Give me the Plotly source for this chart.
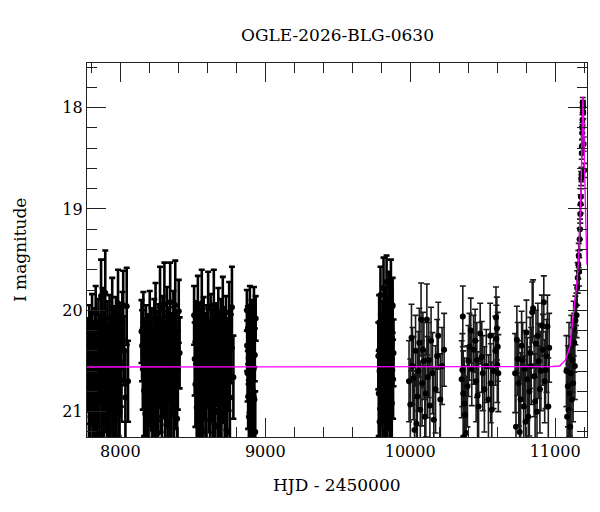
import plotly.graph_objects as go

# --- photometry (HJD-2450000, I mag, error) ---
s1_t = [7776, 7779, 7783, 7786, 7790, 7794, 7797, 7801, 7805, 7808,
        7812, 7816, 7819, 7823, 7827, 7830, 7834, 7838, 7841, 7845,
        7849, 7852, 7856, 7860, 7863, 7867, 7871, 7874, 7878, 7882,
        7885, 7889, 7893, 7896, 7900, 7904, 7907, 7911, 7915, 7918,
        7922, 7926, 7929, 7933, 7937, 7940, 7944, 7948, 7951, 7955,
        7959, 7962, 7966, 7970, 7973, 7977, 7981, 7984, 7988, 7992,
        7995, 7999, 8003, 8008, 8014, 8020, 8027, 8035, 8044, 8053]
s1_mag = [20.62, 20.41, 20.88, 20.25, 20.71, 21.05, 20.33, 20.56, 20.12, 20.94,
          20.47, 20.68, 21.15, 20.29, 20.52, 20.03, 20.81, 20.44, 20.97, 20.61,
          20.18, 20.73, 21.22, 20.37, 20.55, 19.86, 20.90, 20.48, 20.08, 20.66,
          21.10, 20.31, 20.58, 19.83, 20.77, 20.42, 21.02, 20.21, 20.64, 20.50,
          20.95, 20.14, 20.70, 21.18, 20.39, 20.60, 19.98, 20.85, 20.45, 20.27,
          20.74, 21.08, 20.53, 20.16, 20.92, 20.35, 20.63, 19.93, 20.80, 20.49,
          21.00, 20.23, 20.57, 20.69, 20.10, 19.95, 20.40, 20.86, 19.96, 20.70]
s1_err = [0.38, 0.33, 0.46, 0.30, 0.41, 0.52, 0.32, 0.37, 0.28, 0.48,
          0.35, 0.40, 0.55, 0.31, 0.36, 0.27, 0.44, 0.34, 0.50, 0.39,
          0.29, 0.42, 0.56, 0.33, 0.38, 0.36, 0.47, 0.35, 0.30, 0.40,
          0.53, 0.31, 0.39, 0.42, 0.43, 0.34, 0.51, 0.30, 0.40, 0.36,
          0.49, 0.29, 0.41, 0.55, 0.33, 0.39, 0.30, 0.45, 0.35, 0.31,
          0.42, 0.52, 0.37, 0.29, 0.48, 0.33, 0.40, 0.33, 0.44, 0.36,
          0.50, 0.30, 0.38, 0.41, 0.28, 0.34, 0.34, 0.46, 0.38, 0.40]

s2_t = [8146, 8150, 8155, 8159, 8164, 8168, 8172, 8177, 8181, 8186,
        8190, 8194, 8199, 8203, 8208, 8212, 8216, 8221, 8225, 8230,
        8234, 8238, 8243, 8247, 8252, 8256, 8260, 8265, 8269, 8274,
        8278, 8282, 8287, 8291, 8296, 8300, 8304, 8309, 8313, 8318,
        8322, 8326, 8331, 8335, 8340, 8344, 8348, 8353, 8357, 8362,
        8366, 8370, 8375, 8379, 8384, 8388, 8392, 8397, 8403, 8409]
s2_mag = [20.21, 20.35, 20.58, 20.12, 20.79, 20.44, 21.02, 20.27, 20.66, 20.93,
          20.38, 20.55, 21.17, 20.09, 20.72, 20.46, 20.31, 20.88, 20.60, 21.10,
          20.19, 20.50, 20.02, 20.83, 20.41, 20.67, 21.21, 20.25, 20.57, 19.97,
          20.76, 20.43, 21.05, 20.15, 20.62, 20.34, 19.94, 20.90, 20.48, 20.70,
          20.06, 21.13, 20.53, 20.29, 20.81, 19.92, 20.45, 20.98, 20.37, 20.64,
          20.11, 20.86, 20.52, 19.95, 20.74, 20.33, 21.07, 20.59, 20.01, 20.42]
s2_err = [0.31, 0.35, 0.40, 0.30, 0.45, 0.36, 0.51, 0.32, 0.41, 0.48,
          0.34, 0.39, 0.55, 0.28, 0.43, 0.37, 0.33, 0.46, 0.40, 0.52,
          0.30, 0.38, 0.29, 0.45, 0.35, 0.42, 0.57, 0.31, 0.39, 0.40,
          0.44, 0.36, 0.52, 0.29, 0.40, 0.33, 0.41, 0.47, 0.37, 0.43,
          0.29, 0.54, 0.38, 0.32, 0.45, 0.39, 0.36, 0.50, 0.34, 0.41,
          0.30, 0.46, 0.37, 0.44, 0.43, 0.33, 0.52, 0.39, 0.31, 0.35]

s3_t = [8509, 8513, 8518, 8522, 8527, 8531, 8535, 8540, 8544, 8549,
        8553, 8557, 8562, 8566, 8571, 8575, 8579, 8584, 8588, 8593,
        8597, 8601, 8606, 8610, 8615, 8619, 8623, 8628, 8632, 8637,
        8641, 8645, 8650, 8654, 8659, 8663, 8667, 8672, 8676, 8681,
        8685, 8689, 8694, 8698, 8703, 8707, 8711, 8716, 8720, 8725,
        8729, 8733, 8738, 8742, 8747, 8751, 8756, 8762, 8770, 8780]
s3_mag = [20.05, 20.48, 20.73, 20.22, 20.96, 20.39, 19.96, 20.61, 21.12, 20.30,
          20.55, 20.84, 19.93, 20.42, 21.03, 20.17, 20.67, 20.36, 20.91, 21.19,
          20.26, 20.58, 19.98, 20.77, 20.45, 21.08, 20.13, 20.64, 20.32, 20.87,
          20.50, 19.95, 20.70, 21.15, 20.24, 20.56, 20.40, 20.99, 20.08, 20.62,
          20.34, 20.81, 20.19, 21.06, 20.47, 19.99, 20.69, 20.28, 20.93, 20.53,
          20.15, 20.75, 21.20, 20.43, 20.60, 20.02, 20.86, 20.38, 19.97, 20.66]
s3_err = [0.29, 0.36, 0.42, 0.31, 0.49, 0.34, 0.30, 0.39, 0.53, 0.32,
          0.37, 0.45, 0.33, 0.35, 0.50, 0.30, 0.41, 0.33, 0.47, 0.56,
          0.31, 0.38, 0.36, 0.43, 0.36, 0.52, 0.29, 0.40, 0.33, 0.46,
          0.37, 0.35, 0.42, 0.54, 0.31, 0.38, 0.34, 0.49, 0.30, 0.40,
          0.33, 0.45, 0.30, 0.51, 0.36, 0.32, 0.42, 0.31, 0.48, 0.38,
          0.29, 0.43, 0.55, 0.35, 0.39, 0.30, 0.46, 0.34, 0.40, 0.41]

s4_t = [8873, 8875, 8878, 8880, 8882, 8885, 8887, 8889, 8892, 8894,
        8896, 8899, 8901, 8903, 8906, 8908, 8910, 8913, 8915, 8917,
        8920, 8922, 8925, 8928, 8931, 8934]
s4_mag = [20.00, 20.35, 20.62, 20.18, 20.85, 20.47, 21.05, 20.27, 20.71, 19.96,
          20.54, 20.93, 20.40, 21.15, 20.12, 20.66, 20.31, 20.78, 21.00, 20.22,
          20.58, 19.98, 20.88, 20.44, 21.20, 20.08]
s4_err = [0.20, 0.25, 0.28, 0.22, 0.32, 0.26, 0.36, 0.24, 0.30, 0.20,
          0.27, 0.33, 0.25, 0.38, 0.22, 0.29, 0.24, 0.31, 0.35, 0.23,
          0.28, 0.21, 0.32, 0.26, 0.40, 0.22]

s5_t = [9780, 9783, 9786, 9789, 9792, 9795, 9798, 9801, 9804, 9807,
        9810, 9813, 9816, 9819, 9822, 9825, 9828, 9831, 9834, 9837,
        9840, 9843, 9846, 9849, 9852, 9855, 9858, 9861, 9864, 9867,
        9870, 9873, 9876, 9879, 9882, 9885]
s5_mag = [20.45, 20.82, 20.12, 21.10, 20.60, 19.85, 20.35, 20.95, 20.52, 21.20,
          20.20, 20.70, 19.78, 20.41, 21.02, 20.57, 20.05, 20.88, 20.30, 19.72,
          20.64, 21.15, 20.25, 20.48, 19.90, 20.77, 20.38, 21.05, 20.15, 19.80,
          20.55, 20.92, 20.28, 19.95, 20.68, 20.42]
s5_err = [0.33, 0.42, 0.27, 0.50, 0.37, 0.28, 0.31, 0.45, 0.35, 0.55,
          0.29, 0.40, 0.30, 0.33, 0.48, 0.36, 0.27, 0.44, 0.31, 0.26,
          0.38, 0.52, 0.30, 0.34, 0.28, 0.41, 0.32, 0.47, 0.28, 0.30,
          0.36, 0.44, 0.31, 0.27, 0.39, 0.33]

s6_t = [9992, 10001, 10009, 10016, 10022, 10030, 10037, 10043, 10049, 10056,
        10063, 10070, 10075, 10082, 10088, 10095, 10101, 10108, 10115, 10121,
        10128, 10136, 10144, 10154, 10163, 10175, 10186, 10194, 10208, 10220,
        10234]
s6_mag = [20.70, 20.93, 20.27, 20.55, 20.67, 21.18, 20.40, 21.12, 20.85, 20.60,
          20.32, 20.98, 20.09, 20.72, 20.39, 20.50, 21.05, 20.82, 20.09, 20.66,
          20.49, 20.94, 20.30, 20.62, 21.08, 20.78, 20.45, 20.25, 20.88, 20.55,
          20.39]
s6_err = [0.40, 0.45, 0.33, 0.38, 0.41, 0.55, 0.35, 0.52, 0.44, 0.39,
          0.34, 0.48, 0.36, 0.42, 0.37, 0.38, 0.50, 0.43, 0.35, 0.40,
          0.37, 0.46, 0.33, 0.40, 0.51, 0.43, 0.36, 0.33, 0.45, 0.38,
          0.36]

s7_t = [10355, 10360, 10363, 10366, 10369, 10374, 10379, 10386, 10395, 10402,
        10409, 10418, 10425, 10437, 10448, 10455, 10460, 10465, 10472, 10483,
        10494, 10501, 10512, 10525, 10540, 10552, 10556, 10563, 10575, 10588,
        10592, 10595, 10598, 10601, 10604, 10608]
s7_mag = [20.68, 20.59, 20.06, 20.82, 21.25, 20.92, 21.03, 21.21, 20.75, 20.50,
          20.36, 20.20, 20.58, 20.39, 20.30, 20.70, 20.49, 20.84, 20.95, 20.23,
          20.46, 20.62, 20.78, 20.55, 20.88, 20.25, 20.72, 20.98, 20.60, 20.40,
          20.07, 20.28, 20.18, 20.54, 20.36, 20.62]
s7_err = [0.38, 0.36, 0.30, 0.42, 0.55, 0.45, 0.48, 0.56, 0.40, 0.35,
          0.33, 0.32, 0.36, 0.34, 0.31, 0.40, 0.37, 0.43, 0.46, 0.30,
          0.35, 0.37, 0.42, 0.36, 0.44, 0.32, 0.39, 0.47, 0.37, 0.34,
          0.30, 0.33, 0.31, 0.37, 0.34, 0.38]

s8_t = [10724, 10730, 10736, 10742, 10749, 10755, 10762, 10769, 10776, 10783,
        10790, 10796, 10802, 10808, 10815, 10822, 10828, 10835, 10842, 10848,
        10855, 10862, 10868, 10875, 10881, 10888, 10895, 10902, 10909, 10916,
        10922, 10928, 10934, 10941, 10947, 10953, 10959]
s8_mag = [20.62, 21.15, 20.29, 20.48, 20.72, 21.20, 20.88, 20.35, 20.49, 20.95,
          20.58, 21.10, 20.22, 20.68, 21.05, 20.80, 20.42, 20.55, 20.02, 19.98,
          20.65, 20.90, 20.33, 21.00, 20.25, 20.50, 20.78, 20.60, 20.15, 20.39,
          19.92, 20.70, 20.59, 20.45, 20.16, 20.95, 20.37]
s8_err = [0.39, 0.52, 0.33, 0.36, 0.42, 0.55, 0.46, 0.34, 0.37, 0.50,
          0.38, 0.53, 0.32, 0.41, 0.50, 0.44, 0.35, 0.38, 0.30, 0.28,
          0.40, 0.47, 0.33, 0.51, 0.32, 0.37, 0.43, 0.39, 0.30, 0.35,
          0.26, 0.41, 0.38, 0.36, 0.31, 0.48, 0.34]

s9_t = [11078, 11083, 11088, 11092, 11096, 11100, 11104, 11108, 11112, 11116,
        11120, 11124, 11128, 11132, 11136, 11140, 11144, 11148, 11152, 11156,
        11160, 11163, 11166, 11169, 11172, 11174, 11176, 11178, 11180, 11182,
        11184, 11186, 11187, 11188, 11189, 11190, 11191, 11192, 11194, 11197,
        11200]
s9_mag = [20.60, 21.05, 20.75, 20.98, 20.45, 20.82, 21.15, 20.62, 20.35, 20.88,
          20.49, 20.72, 20.18, 20.32, 20.55, 20.10, 19.95, 20.05, 19.78, 19.68,
          19.55, 19.46, 19.62, 19.30, 19.20, 19.05, 18.95, 18.88, 18.70, 18.66,
          18.45, 18.38, 18.25, 18.20, 18.12, 18.00, 17.95, 17.98, 18.05, 18.36,
          18.62]
s9_err = [0.35, 0.48, 0.40, 0.45, 0.33, 0.42, 0.52, 0.36, 0.30, 0.43,
          0.32, 0.38, 0.27, 0.29, 0.33, 0.24, 0.20, 0.22, 0.17, 0.15,
          0.14, 0.12, 0.14, 0.11, 0.10, 0.09, 0.09, 0.08, 0.07, 0.07,
          0.06, 0.06, 0.06, 0.05, 0.05, 0.05, 0.05, 0.05, 0.06, 0.07,
          0.07]

# model curve
model_t = [7770, 10900, 10980, 11032, 11072, 11102, 11132, 11152, 11162, 11172,
           11178, 11184, 11188, 11192, 11196, 11200, 11206, 11212, 11220]
model_mag = [20.56, 20.56, 20.555, 20.55, 20.49, 20.36, 20.00, 19.70, 19.50, 19.15,
             18.85, 18.45, 18.10, 17.89, 18.10, 18.45, 18.85, 19.15, 19.55]

# crowded early seasons vs. the sparser later ones
dense_t = s1_t + s2_t + s3_t + s4_t + s5_t
dense_mag = s1_mag + s2_mag + s3_mag + s4_mag + s5_mag
dense_err = s1_err + s2_err + s3_err + s4_err + s5_err
sparse_t = s6_t + s7_t + s8_t + s9_t
sparse_mag = s6_mag + s7_mag + s8_mag + s9_mag
sparse_err = s6_err + s7_err + s8_err + s9_err
assert len(dense_t) == len(dense_mag) == len(dense_err)
assert len(sparse_t) == len(sparse_mag) == len(sparse_err)

FONT = "DejaVu Serif"

fig = go.Figure()
fig.add_trace(go.Scatter(
    x=dense_t, y=dense_mag, mode="markers",
    marker=dict(color="black", size=6),
    error_y=dict(type="data", array=dense_err, color="black", thickness=2.6, width=3),
    showlegend=False,
))
fig.add_trace(go.Scatter(
    x=sparse_t, y=sparse_mag, mode="markers",
    marker=dict(color="black", size=6),
    error_y=dict(type="data", array=sparse_err, color="#1a1a1a", thickness=1.6, width=3),
    showlegend=False,
))
fig.add_trace(go.Scatter(
    x=model_t, y=model_mag, mode="lines",
    line=dict(color="#ff00ff", width=1.4),
    showlegend=False,
))

axis_common = dict(
    showline=True, linecolor="#222", linewidth=1.2, mirror="ticks",
    ticks="inside", tickcolor="#222", tickwidth=1, ticklen=19,
    showgrid=False, zeroline=False, automargin=False,
    tickfont=dict(family=FONT, size=16, color="black"),
)
fig.update_xaxes(range=[7770, 11220], dtick=1000, tick0=0, tickformat="d",
                 minor=dict(dtick=200, ticks="inside", ticklen=10, tickcolor="#222"),
                 **axis_common)
fig.update_yaxes(range=[21.25, 17.56], dtick=1, tick0=0,
                 minor=dict(dtick=0.2, ticks="inside", ticklen=10, tickcolor="#222"),
                 **axis_common)

fig.update_layout(
    width=600, height=512,
    margin=dict(l=87, r=13, t=63, b=75),
    plot_bgcolor="white", paper_bgcolor="white",
    title=dict(text="OGLE-2026-BLG-0630", x=0.5625, xanchor="center",
               y=1 - 35 / 512, yanchor="middle", automargin=False,
               font=dict(family=FONT, size=17, color="black")),
    annotations=[
        dict(text="HJD - 2450000", xref="paper", yref="paper", x=0.5, y=-0.128,
             xanchor="center", yanchor="middle", showarrow=False,
             font=dict(family=FONT, size=17, color="black")),
        dict(text="I magnitude", xref="paper", yref="paper", x=-0.134, y=0.5,
             xanchor="center", yanchor="middle", textangle=-90, showarrow=False,
             font=dict(family=FONT, size=17, color="black")),
    ],
)

# page body has a default 8px margin; drop it so the figure sits at 0,0
fig.write_html("out.html", config={"displayModeBar": False},
               post_script="document.body.style.margin='0';")
